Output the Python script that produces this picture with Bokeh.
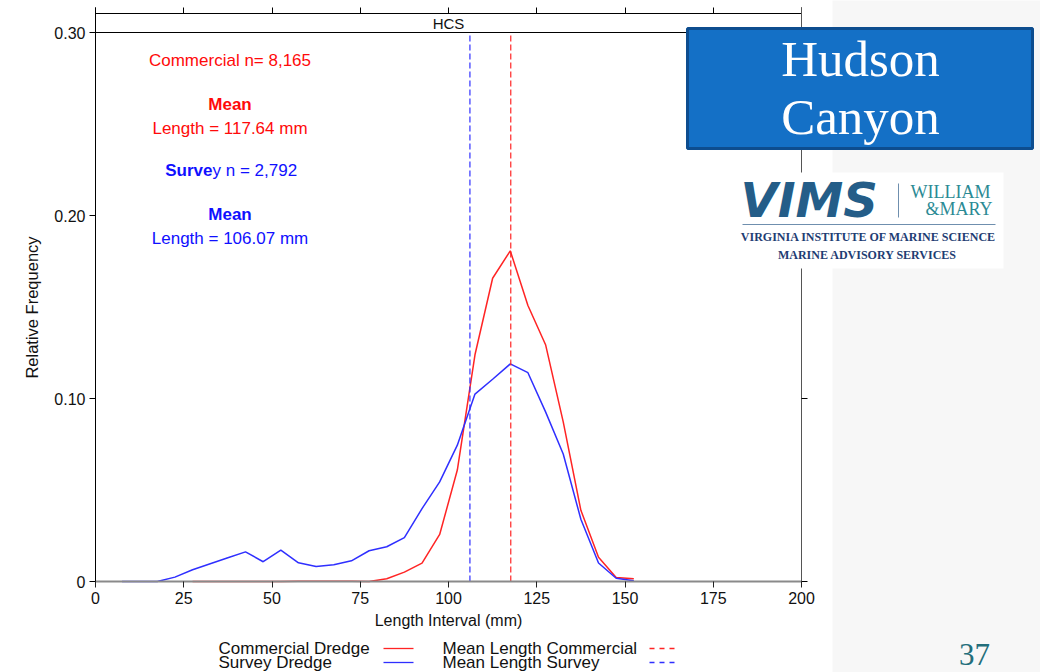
from math import pi
from bokeh.plotting import figure
from bokeh.models import Range1d, LinearAxis, FixedTicker, NumeralTickFormatter
from bokeh.core.properties import value
from bokeh.embed import file_html
from bokeh.resources import INLINE

# ---------------- data ----------------
survey_len = [7.5, 12.5, 17.5, 22.5, 27.5, 32.5, 37.5, 42.5, 47.5, 52.5,
              57.5, 62.5, 67.5, 72.5, 77.5, 82.5, 87.5, 92.5, 97.5, 102.5,
              107.5, 112.5, 117.5, 122.5, 127.5, 132.5, 137.5, 142.5, 147.5, 152.5]
survey_freq = [0.0, 0.0, 0.0, 0.0024, 0.0064, 0.0097, 0.0130, 0.0162, 0.0108, 0.0172,
               0.0102, 0.0082, 0.0091, 0.0113, 0.0168, 0.0190, 0.0240, 0.0398, 0.0544, 0.0745,
               0.1024, 0.1105, 0.1189, 0.1141, 0.0927, 0.0697, 0.0340, 0.0101, 0.0018, 0.0004]

commercial_len = [27.5, 32.5, 37.5, 42.5, 47.5, 52.5, 57.5, 62.5, 67.5, 72.5,
                  77.5, 82.5, 87.5, 92.5, 97.5, 102.5, 107.5, 112.5, 117.5, 122.5,
                  127.5, 132.5, 137.5, 142.5, 147.5, 152.5]
commercial_freq = [0.0, 0.0, 0.0, 0.0, 0.0, 0.0, 0.0001, 0.0002, 0.0002, 0.0001,
                   0.0, 0.0015, 0.0051, 0.0100, 0.0257, 0.0609, 0.1239, 0.1657, 0.1807, 0.1508,
                   0.1294, 0.0872, 0.0389, 0.0132, 0.0022, 0.0015]

mean_lengths = [117.64, 106.07]          # commercial, survey
sample_sizes = ["8,165", "2,792"]        # commercial, survey

XTICKS = [0, 25, 50, 75, 100, 125, 150, 175, 200]
YTICKS = [0.0, 0.10, 0.20, 0.30]
YTICK_LABELS = ["0", "0.10", "0.20", "0.30"]
XLIM = (0, 200)
YLIM = (0, 0.30)
STRIP_LABEL = "HCS"
X_TITLE = "Length Interval (mm)"
Y_TITLE = "Relative Frequency"

LEG_LABELS = ["Commercial Dredge", "Survey Dredge", "Mean Length Commercial", "Mean Length Survey"]

# ---------------- styling / geometry ----------------
RED_LINE, BLUE_LINE = "#ff2424", "#2f2fff"
RED_TXT, BLUE_TXT = "#ff0a0a", "#1010ff"
SANS_NAME = "Liberation Sans"
SANS = value(SANS_NAME)
SERIF = value("Liberation Serif")

W, H = 1040, 672
OFF = 0                      # page offset of the canvas
X0PX, X1PX = 95, 801         # px of x = 0 and 200
Y0PX, Y1PX = 581, 32         # px of y = 0 and 0.30
sx = (X1PX - X0PX) / (XLIM[1] - XLIM[0])
sy = (Y0PX - Y1PX) / (YLIM[1] - YLIM[0])


def px2x(px):
    return XLIM[0] + (px - X0PX) / sx


def px2y(py):
    return YLIM[0] + (Y0PX - py) / sy


p = figure(width=W, height=H, output_backend="svg", toolbar_location=None,
           x_range=Range1d(px2x(OFF), px2x(OFF + W)),
           y_range=Range1d(px2y(OFF + H), px2y(OFF)),
           x_axis_type=None, y_axis_type=None)
p.min_border_left = p.min_border_right = p.min_border_top = p.min_border_bottom = 0
p.outline_line_color = None
p.background_fill_color = "white"
p.border_fill_color = "white"

# faint slide background on the right
p.quad(left=px2x(832), right=px2x(1045), top=px2y(-5), bottom=px2y(680),
       fill_color="#f7f7f7", line_color=None)

# ---------------- axes ----------------
ax_b = LinearAxis(fixed_location=YLIM[0], ticker=FixedTicker(ticks=XTICKS), bounds=XLIM,
                  axis_line_color="#8a8a8a", axis_line_width=2,
                  major_tick_out=6, major_tick_in=0, minor_tick_out=0, minor_tick_in=0,
                  major_tick_line_color="#222222", major_label_standoff=4,
                  major_label_text_font=SANS_NAME, major_label_text_font_size="16px",
                  major_label_text_color="#111111")
p.add_layout(ax_b, "below")

ax_l = LinearAxis(fixed_location=XLIM[0], ticker=FixedTicker(ticks=YTICKS),
                  bounds=(YLIM[0], px2y(7)),
                  formatter=NumeralTickFormatter(format="0.00"),
                  major_label_overrides=dict(zip(YTICKS, YTICK_LABELS)),
                  axis_line_color="black", axis_line_width=1,
                  major_tick_out=6, major_tick_in=0, minor_tick_out=0, minor_tick_in=0,
                  major_label_standoff=4,
                  major_label_text_font=SANS_NAME, major_label_text_font_size="16px",
                  major_label_text_color="#111111")
p.add_layout(ax_l, "left")

ax_t = LinearAxis(fixed_location=px2y(13), ticker=FixedTicker(ticks=XTICKS), bounds=XLIM,
                  major_label_overrides={t: "" for t in XTICKS},
                  axis_line_color="black", major_tick_out=6, major_tick_in=0,
                  minor_tick_out=0, minor_tick_in=0)
p.add_layout(ax_t, "above")

ax_r = LinearAxis(fixed_location=XLIM[1], ticker=FixedTicker(ticks=YTICKS),
                  bounds=(YLIM[0], px2y(7)),
                  major_label_overrides={t: "" for t in YTICKS},
                  axis_line_color="#555555", major_tick_out=6, major_tick_in=0,
                  minor_tick_out=0, minor_tick_in=0)
p.add_layout(ax_r, "right")

# panel top border (strip bottom) and strip label
p.segment(x0=[XLIM[0]], y0=[YLIM[1]], x1=[XLIM[1]], y1=[YLIM[1]], line_color="black", line_width=1)


def txt(x, y_px, s, color, bold=False, align="center", size="17px", font=SANS, angle=0.0):
    return p.text(x=[x], y=[px2y(y_px)], text=[s], text_font=font, text_font_size=size,
                  text_font_style=bold if isinstance(bold, str) else ("bold" if bold else "normal"),
                  text_color=color, text_align=align, text_baseline="middle", angle=angle)


txt((XLIM[0] + XLIM[1]) / 2, 22.5, STRIP_LABEL, "#111111", size="15px")

# axis titles
txt((XLIM[0] + XLIM[1]) / 2, 620, X_TITLE, "#111111", size="16px")
txt(px2x(31), 307, Y_TITLE, "#111111", angle=pi / 2, size="16.5px")

# ---------------- series ----------------
p.line(commercial_len, commercial_freq, line_color=RED_LINE, line_width=1.5)
p.line(survey_len, survey_freq, line_color=BLUE_LINE, line_width=1.5)

p.segment(x0=mean_lengths, y0=[YLIM[0]] * 2, x1=mean_lengths, y1=[YLIM[1]] * 2,
          line_color=[RED_LINE, BLUE_LINE], line_width=1.2, line_dash="6 3")

# ---------------- annotations ----------------
cx = px2x(229.5)
txt(cx, 60, f"Commercial n= {sample_sizes[0]}", RED_TXT)
txt(cx, 103.5, "Mean", RED_TXT, bold=True)
txt(cx, 127.5, f"Length = {mean_lengths[0]:.2f} mm", RED_TXT)
txt(px2x(212), 170, "Surve", BLUE_TXT, bold=True, align="right")
txt(px2x(212), 170, f"y n = {sample_sizes[1]}", BLUE_TXT, align="left")
txt(cx, 213.5, "Mean", BLUE_TXT, bold=True)
txt(cx, 237.5, f"Length = {mean_lengths[1]:.2f} mm", BLUE_TXT)

# ---------------- legend ----------------
leg_text_x = [218, 218, 442, 442]
leg_row_y = [648, 662, 648, 662]
for lab, tx, ry in zip(LEG_LABELS, leg_text_x, leg_row_y):
    txt(px2x(tx), ry, lab, "#111111", align="left")
p.segment(x0=[px2x(383)] * 2, y0=[px2y(648), px2y(662)], x1=[px2x(413)] * 2, y1=[px2y(648), px2y(662)],
          line_color=[RED_LINE, BLUE_LINE], line_width=1.3)
p.segment(x0=[px2x(649)] * 2, y0=[px2y(648), px2y(662)], x1=[px2x(678)] * 2, y1=[px2y(648), px2y(662)],
          line_color=[RED_LINE, BLUE_LINE], line_width=1.3, line_dash="5 5")

# ---------------- title box ----------------
box = p.quad(left=px2x(687), right=px2x(1032), top=px2y(28), bottom=px2y(148),
             fill_color="#1470c6", line_color="#0d4d8f", line_width=3)
box.level = "overlay"
for s, yc in (("Hudson", 58.5), ("Canyon", 116.5)):
    r = txt(px2x(860), yc, s, "white", size="51px", font=SERIF)
    r.level = "overlay"

# ---------------- logo ----------------
logo_bg = p.quad(left=px2x(736), right=px2x(1003), top=px2y(172), bottom=px2y(268),
                 fill_color="white", line_color=None)
logo_bg.level = "overlay"


def logo_txt(x_px, y_px, s, color, font, size, style="normal", align="left"):
    r = txt(px2x(x_px), y_px, s, color, bold=style, align=align, size=size, font=font)
    r.level = "overlay"


logo_txt(740, 199.5, "VIMS", "#245d88", value("DejaVu Sans"), "48px", "bold italic")
logo_txt(910, 191, "WILLIAM", "#2b8a94", SERIF, "18px")
logo_txt(992, 208, "&MARY", "#2b8a94", SERIF, "18px", align="right")
logo_txt(868, 236.5, "VIRGINIA INSTITUTE OF MARINE SCIENCE", "#1e3d73", SERIF, "12px", "bold", "center")
logo_txt(867, 254.5, "MARINE ADVISORY SERVICES", "#1e3d73", SERIF, "12px", "bold", "center")
lr = p.segment(x0=[px2x(898), px2x(742)], y0=[px2y(183), px2y(224)],
               x1=[px2x(898), px2x(995)], y1=[px2y(217), px2y(224)],
               line_color="#6f8fae", line_width=1)
lr.level = "overlay"

# page number
logo_txt(974, 654, "37", "#236e7b", SERIF, "31px", align="center")

open("out.html", "w").write(file_html(p, INLINE))
